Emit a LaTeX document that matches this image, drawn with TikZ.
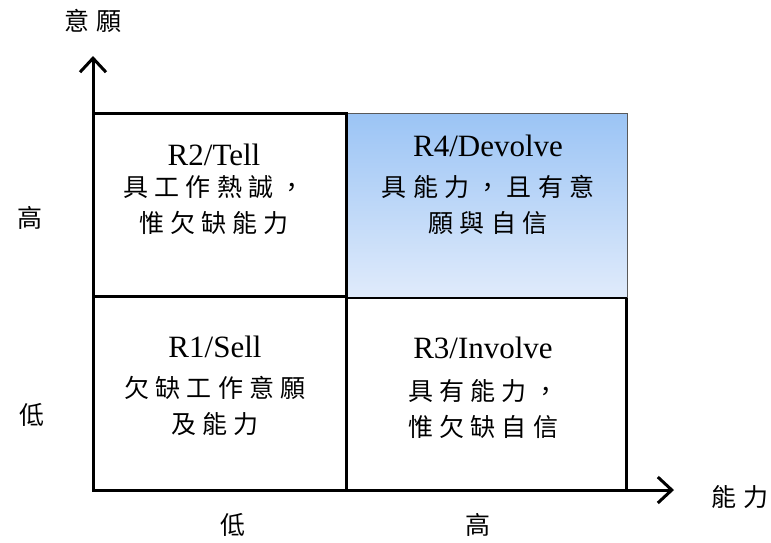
\documentclass[tikz,border=0pt]{standalone}
\usepackage{fontspec}
\setmainfont{Liberation Serif}
\newfontfamily\cjk{Noto Sans CJK TC}[LetterSpace=25]
\usetikzlibrary{arrows.meta}
\definecolor{gradtop}{RGB}{155,196,245}
\definecolor{gradbot}{RGB}{224,235,251}
\newcommand\latinline[1]{{\fontsize{31}{36}\selectfont #1}}
\tikzset{
  quadtext/.style={font=\fontsize{25}{36}\selectfont, align=center, inner sep=0pt},
  axlabel/.style={font=\fontsize{25}{28}\selectfont\cjk, inner sep=0pt},
  axisline/.style={line width=3pt, -{Straight Barb[length=14pt,width=26pt,line width=3pt]}},
  thickframe/.style={line width=3pt},
}
\begin{document}
\begin{tikzpicture}[x=1pt,y=-1pt]
\useasboundingbox (0,0) rectangle (771,542);
% shaded R4 box
\shade[top color=gradtop, bottom color=gradbot] (346,113) rectangle (627,298);
\draw[gray!70!black, line width=1pt] (346,113) rectangle (627,298);
% R3 box
\draw[line width=2pt] (346,298) rectangle (626,490);
\draw[line width=3pt] (626,298) -- (626,490);
% R2 and R1 boxes
\draw[thickframe] (93,113) rectangle (346,296);
\draw[thickframe] (93,296) rectangle (346,490);
% axes
\coordinate (O) at (93,490);
\coordinate (ytip) at (93,56);
\coordinate (xtip) at (674,490);
\draw[axisline] (O) -- (ytip);
\draw[axisline] (O) -- (xtip);
% quadrant texts
\node[quadtext] (r2) at (214,189) {\latinline{R2/Tell}\\[-5pt]{\cjk 具工作熱誠，}\\{\cjk 惟欠缺能力}};
\node[quadtext] (r4) at (488,185) {\latinline{R4/Devolve}\\[3.5pt]{\cjk 具能力，且有意}\\{\cjk 願與自信}};
\node[quadtext] (r1) at (215,386) {\latinline{R1/Sell}\\[4.5pt]{\cjk 欠缺工作意願}\\{\cjk 及能力}};
\node[quadtext] (r3) at (483,388) {\latinline{R3/Involve}\\[5.5pt]{\cjk 具有能力，}\\{\cjk 惟欠缺自信}};
% axis labels
\node[axlabel] (ylab) at (93,21) {意願};
\node[axlabel] (xlab) at (740,497) {能力};
\node[axlabel] (yhi) at (30,218) {高};
\node[axlabel] (ylo) at (32,415) {低};
\node[axlabel] (xlo) at (233,525) {低};
\node[axlabel] (xhi) at (478,525) {高};
\end{tikzpicture}
\end{document}
